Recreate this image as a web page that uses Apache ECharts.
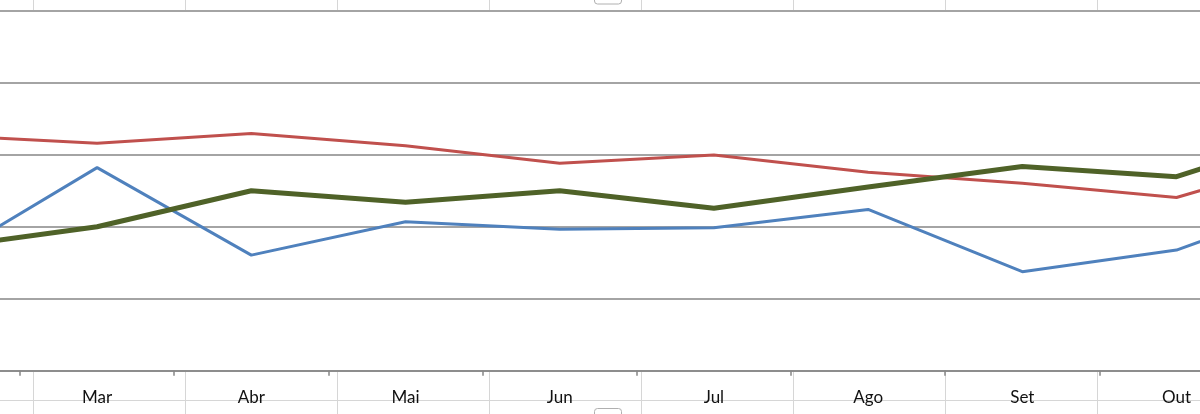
<!DOCTYPE html>
<html>
<head>
<meta charset="utf-8">
<script src="https://cdn.jsdelivr.net/npm/echarts@6/dist/echarts.min.js"></script>
<style>
  html, body { margin: 0; padding: 0; background: #ffffff; }
  #chart { width: 1200px; height: 414px; }
</style>
</head>
<body>
<div id="chart"></div>
<script>
// Categories (Fev and Nov lie just outside the visible crop)
const categories = ['Fev', 'Mar', 'Abr', 'Mai', 'Jun', 'Jul', 'Ago', 'Set', 'Out', 'Nov'];
// Series values (gridline step = 20)
const serieAzul = [30.8, 56.4, 32.1, 41.4, 39.3, 39.7, 44.8, 27.5, 33.5, 48.8];
const serieVermelha = [65.4, 63.2, 65.9, 62.5, 57.6, 59.9, 55.1, 52.1, 48.1, 60.8];
const serieVerde = [34.1, 40.0, 50.0, 46.8, 50.0, 45.1, 51.0, 56.7, 53.9, 67.5];
const yMin = 0, yMax = 100, yStep = 20;

const BAND = 154.2;
const chart = echarts.init(document.getElementById('chart'), null, { renderer: 'canvas' });

// spreadsheet cell lines visible around the chart (decoration)
const cellLines = [];
for (let k = 0; k < 9; k++) {
  const x = 33 + 152 * k + 0.5;
  cellLines.push({ type: 'line', silent: true, z: -10, shape: { x1: x, y1: 0, x2: x, y2: 10 }, style: { stroke: '#d6d6d6', lineWidth: 1 } });
  cellLines.push({ type: 'line', silent: true, z: -10, shape: { x1: x, y1: 372, x2: x, y2: 414 }, style: { stroke: '#d6d6d6', lineWidth: 1 } });
}
cellLines.push({ type: 'line', silent: true, z: -10, shape: { x1: 0, y1: 400.5, x2: 1200, y2: 400.5 }, style: { stroke: '#d6d6d6', lineWidth: 1 } });
// selection handles
cellLines.push({ type: 'rect', silent: true, z: 100, shape: { x: 594.5, y: -8, width: 27, height: 12, r: 3 }, style: { fill: '#ffffff', stroke: '#b0b0b0', lineWidth: 1 } });
cellLines.push({ type: 'rect', silent: true, z: 100, shape: { x: 594.5, y: 408.5, width: 27, height: 12, r: 3 }, style: { fill: '#ffffff', stroke: '#b0b0b0', lineWidth: 1 } });

const option = {
  animation: false,
  backgroundColor: '#ffffff',
  grid: {
    left: 20 - BAND, top: 10.7, width: BAND * categories.length, height: 360,
    containLabel: false, outerBoundsMode: 'none'
  },
  xAxis: {
    type: 'category',
    data: categories,
    boundaryGap: true,
    axisLine: { show: true, lineStyle: { color: '#868686', width: 1.5 } },
    axisTick: { show: true, inside: false, length: 5, lineStyle: { color: '#868686', width: 1.5 } },
    axisLabel: { interval: 0, color: '#111111', fontSize: 17, fontFamily: 'Lato, "Open Sans", sans-serif', margin: 18 },
    splitLine: { show: false }
  },
  yAxis: {
    type: 'value',
    min: yMin, max: yMax, interval: yStep,
    axisLine: { show: false },
    axisTick: { show: false },
    axisLabel: { show: false },
    splitLine: { show: true, lineStyle: { color: '#868686', width: 1.5 } }
  },
  series: [
    { name: 'Série 1', type: 'line', data: serieAzul, symbol: 'none', lineStyle: { color: '#4F81BD', width: 3 }, z: 3 },
    { name: 'Série 2', type: 'line', data: serieVermelha, symbol: 'none', lineStyle: { color: '#C0504D', width: 3 }, z: 4 },
    { name: 'Série 3', type: 'line', data: serieVerde, symbol: 'none', lineStyle: { color: '#4F6228', width: 5 }, z: 5 }
  ],
  graphic: cellLines
};
chart.setOption(option);
</script>
</body>
</html>
